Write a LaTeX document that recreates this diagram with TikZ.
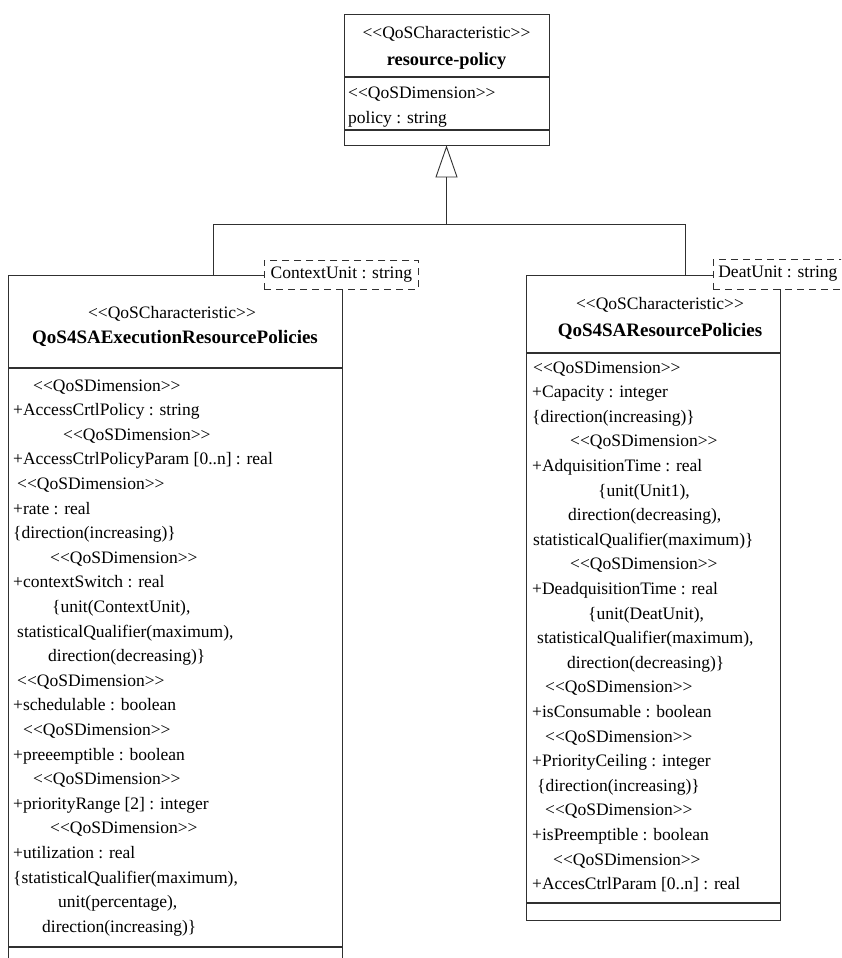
\documentclass[tikz,border=0pt]{standalone}
\usepackage{fontspec}
\setmainfont{Liberation Serif}
\usetikzlibrary{arrows.meta}
\definecolor{linec}{HTML}{303030}
\newcommand\dimst{<\kern0pt<QoSDimension>\kern0pt>}
\newcommand\charst{<\kern0pt<QoSCharacteristic>\kern0pt>}
\begin{document}
\begin{tikzpicture}[x=1pt,y=-1pt,
  box/.style={draw=linec, line width=0.8pt, fill=white, inner sep=0pt},
  sepline/.style={draw=linec, line width=2.2pt},
  endline/.style={draw=linec, line width=1.1pt},
  conn/.style={draw=linec, line width=0.9pt},
  attr/.style={anchor=base west, inner sep=0pt, font=\fontsize{17.5}{20}\selectfont},
  ctr/.style={anchor=base, inner sep=0pt, font=\fontsize{17.5}{20}\selectfont},
  cname/.style={anchor=base, inner sep=0pt, font=\fontsize{18.3}{20}\selectfont\bfseries},
  bigname/.style={cname, font=\fontsize{19}{20}\selectfont\bfseries},
  tagbox/.style={draw=linec, dash pattern=on 7pt off 5pt, line width=0.7pt, fill=white,
    anchor=west, inner xsep=5pt, inner ysep=0pt, minimum height=29pt,
    font=\fontsize{17.5}{20}\selectfont}]
\useasboundingbox (0,0) rectangle (841,958);
\clip (0,0) rectangle (841,958);
\fill[white] (0,0) rectangle (841,958);

% top class
\node[box, minimum width=205pt, minimum height=131pt] (tbox) at (446.5,79.5) {};
\draw[sepline] (344,77) -- (549,77);
\draw[endline] (344,130) -- (549,130);
\node[ctr] (tst) at (446.5,39) {\charst};
\node[cname] (tnm) at (446.5,66) {resource-policy};
\node[attr] (t0) at (348,98) {\dimst};
\node[attr] (t1) at (348,123) {policy : string};

% left class
\node[box, minimum width=334pt, minimum height=700pt] (lbox) at (175,625) {};
\draw[sepline] (8,368) -- (342,368);
\draw[endline] (8,947) -- (342,947);
\node[ctr] (lst) at (172,318) {\charst};
\node[bigname] (lnm) at (175,343) {QoS4SAExecutionResourcePolicies};

% right class
\node[box, minimum width=254pt, minimum height=645pt] (rbox) at (653,597.5) {};
\draw[sepline] (526,353) -- (780,353);
\draw[endline] (526,903) -- (780,903);
\node[ctr] (rst) at (660,309) {\charst};
\node[bigname] (rnm) at (660,336) {QoS4SAResourcePolicies};

% generalization
\coordinate (mjoin) at (446.5,224);
\coordinate (ljoin) at (213,224);
\coordinate (rjoin) at (685,224);
\draw[conn] (ljoin |- lbox.north) -- (ljoin) -- (rjoin) -- (rjoin |- rbox.north);
\draw[conn, -{Triangle[open, length=32pt, width=22pt]}] (mjoin) -- (tbox.south);

% template parameters
\node[tagbox, minimum width=154pt] (ctx) at (264,274.5) {ContextUnit : string};
\node[tagbox, minimum height=30pt] (deat) at (713,274) {DeatUnit : string};

% left attributes
\node[attr] (l0) at (33,391) {\dimst};
\node[attr] (l1) at (13,415.6) {+AccessCrtlPolicy : string};
\node[attr] (l2) at (63,440.2) {\dimst};
\node[attr] (l3) at (13,464.8) {+AccessCtrlPolicyParam [0..n] : real};
\node[attr] (l4) at (17,489.4) {\dimst};
\node[attr] (l5) at (13,514) {+rate : real};
\node[attr] (l6) at (13,538.6) {\{direction(increasing)\}};
\node[attr] (l7) at (50,563.2) {\dimst};
\node[attr] (l8) at (13,587.8) {+contextSwitch : real};
\node[attr] (l9) at (52,612.4) {\{unit(ContextUnit),};
\node[attr] (l10) at (17,637) {statisticalQualifier(maximum),};
\node[attr] (l11) at (48,661.6) {direction(decreasing)\}};
\node[attr] (l12) at (17,686.2) {\dimst};
\node[attr] (l13) at (13,710.8) {+schedulable : boolean};
\node[attr] (l14) at (23,735.4) {\dimst};
\node[attr] (l15) at (13,760) {+preeemptible : boolean};
\node[attr] (l16) at (33,784.6) {\dimst};
\node[attr] (l17) at (13,809.2) {+priorityRange [2] : integer};
\node[attr] (l18) at (50,833.8) {\dimst};
\node[attr] (l19) at (13,858.4) {+utilization : real};
\node[attr] (l20) at (13,883) {\{statisticalQualifier(maximum),};
\node[attr] (l21) at (58,907.6) {unit(percentage),};
\node[attr] (l22) at (42,932.2) {direction(increasing)\}};

% right attributes
\node[attr] (r0) at (533,373) {\dimst};
\node[attr] (r1) at (532,397.6) {+Capacity : integer};
\node[attr] (r2) at (532,422.2) {\{direction(increasing)\}};
\node[attr] (r3) at (570,446.8) {\dimst};
\node[attr] (r4) at (532,471.4) {+AdquisitionTime : real};
\node[attr] (r5) at (598,496) {\{unit(Unit1),};
\node[attr] (r6) at (568,520.6) {direction(decreasing),};
\node[attr] (r7) at (533,545.2) {statisticalQualifier(maximum)\}};
\node[attr] (r8) at (570,569.8) {\dimst};
\node[attr] (r9) at (532,594.4) {+DeadquisitionTime : real};
\node[attr] (r10) at (588,619) {\{unit(DeatUnit),};
\node[attr] (r11) at (537,643.6) {statisticalQualifier(maximum),};
\node[attr] (r12) at (567,668.2) {direction(decreasing)\}};
\node[attr] (r13) at (545,692.8) {\dimst};
\node[attr] (r14) at (532,717.4) {+isConsumable : boolean};
\node[attr] (r15) at (545,742) {\dimst};
\node[attr] (r16) at (532,766.6) {+PriorityCeiling : integer};
\node[attr] (r17) at (537,791.2) {\{direction(increasing)\}};
\node[attr] (r18) at (545,815.8) {\dimst};
\node[attr] (r19) at (532,840.4) {+isPreemptible : boolean};
\node[attr] (r20) at (553,865) {\dimst};
\node[attr] (r21) at (532,889.6) {+AccesCtrlParam [0..n] : real};
\end{tikzpicture}
\end{document}
